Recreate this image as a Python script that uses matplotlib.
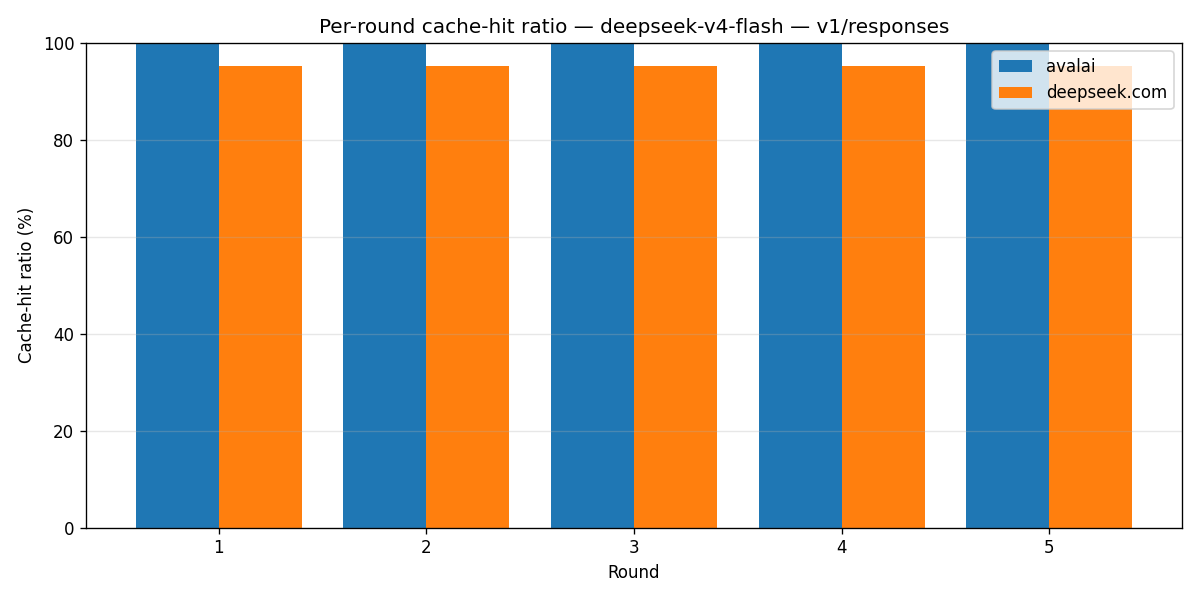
import matplotlib
matplotlib.use("Agg")
import matplotlib.pyplot as plt
import numpy as np

rounds = [1, 2, 3, 4, 5]
avalai = [100.0, 100.0, 100.0, 100.0, 100.0]
deepseek = [95.3, 95.3, 95.3, 95.3, 95.3]

fig, ax = plt.subplots(figsize=(10, 5), dpi=120)
x = np.arange(len(rounds))
w = 0.4
ax.bar(x - w/2, avalai, w, label="avalai", color="#1f77b4")
ax.bar(x + w/2, deepseek, w, label="deepseek.com", color="#ff7f0e")
ax.set_xticks(x)
ax.set_xticklabels([str(r) for r in rounds])
ax.set_ylim(0, 100)
ax.set_xlabel("Round")
ax.set_ylabel("Cache-hit ratio (%)")
ax.set_title("Per-round cache-hit ratio — deepseek-v4-flash — v1/responses")
ax.grid(axis="y", alpha=0.3)
ax.legend(loc="upper right")
fig.tight_layout()
fig.savefig("out.png")
